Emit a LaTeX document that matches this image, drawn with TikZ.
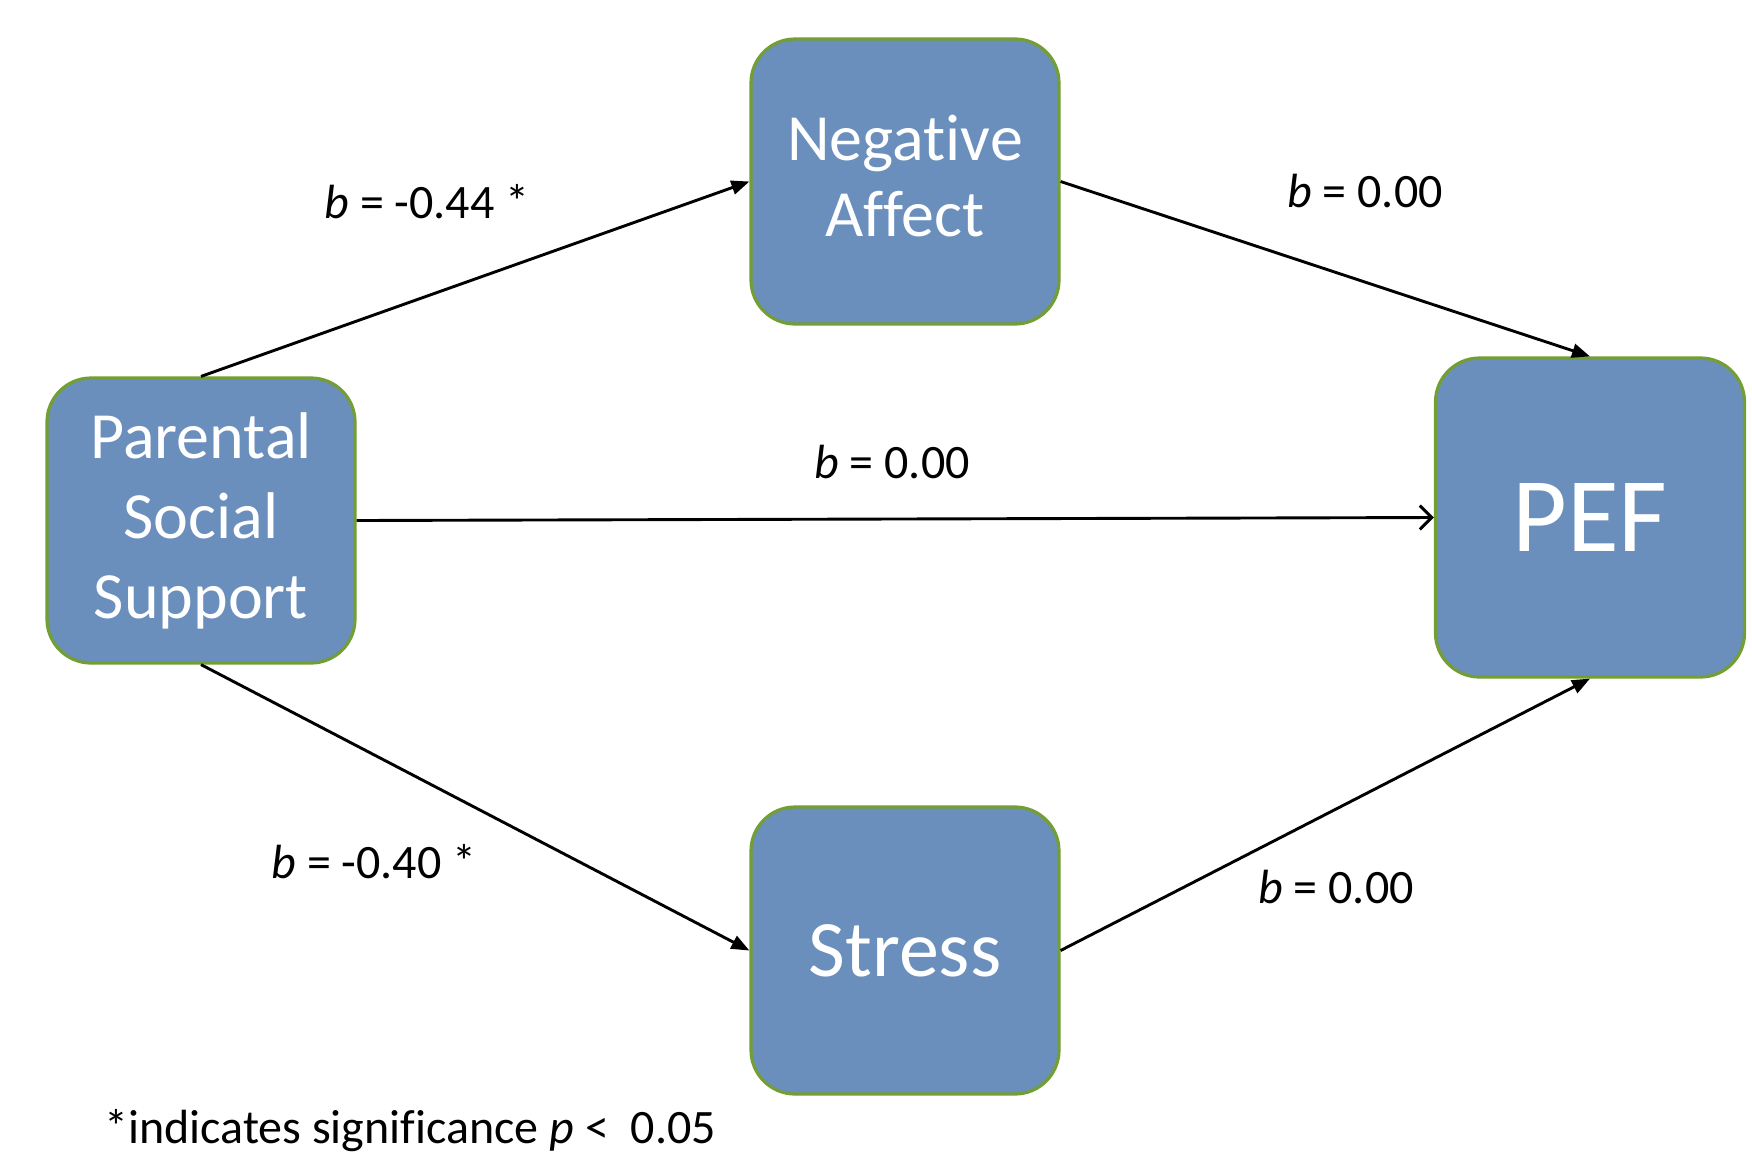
\documentclass[tikz,border=0pt]{standalone}
\usepackage{fontspec}
\setmainfont{Carlito}[Ligatures=NoCommon]
\usetikzlibrary{arrows.meta}
\definecolor{boxfill}{RGB}{106,143,188}
\definecolor{boxline}{RGB}{114,158,52}
\begin{document}
\begin{tikzpicture}[x=0.5pt,y=-0.5pt,
  vbox/.style={draw=boxline,line width=1.6pt,fill=boxfill,rounded corners=22pt,
    text=white,align=center,inner sep=0pt,minimum width=154pt},
  arr/.style={line width=1.45pt,-{Triangle[length=9pt,width=7pt]}},
  arrb/.style={line width=1.45pt,-{Straight Barb[length=6pt,width=12pt,line width=1.5pt]}},
  lbl/.style={font=\fontsize{24}{28}\selectfont,inner sep=0pt}]
\useasboundingbox (0,0) rectangle (1752,1174);
\node[vbox,minimum height=142.5pt,font=\fontsize{33}{38}\selectfont,text depth=6pt] (neg) at (905,181.5) {Negative\\Affect};
\node[vbox,minimum width=154.5pt,minimum height=159.5pt,font=\fontsize{53}{60}\selectfont] (pef) at (1590,517.5) {PEF};
\node[vbox,minimum height=142.5pt,font=\fontsize{33}{40}\selectfont] (par) at (201,520.5) {Parental\\Social\\Support};
\node[vbox,minimum height=143.5pt,font=\fontsize{40}{46}\selectfont] (str) at (905,950.5) {Stress};
\draw[arr] (par.north) -- (neg.west);
\draw[arr] (neg.east) -- (pef.north);
\draw[arrb] (par.east) -- (pef.west);
\draw[arr] (par.south) -- (str.west);
\draw[arr] (str.east) -- (pef.south);
\node[lbl] (l1) at (427,202) {\textit{b} = -0.44 *};
\node[lbl] (l2) at (1365,191) {\textit{b} = 0.00};
\node[lbl] (l3) at (892,462) {\textit{b} = 0.00};
\node[lbl] (l4) at (374,862) {\textit{b} = -0.40 *};
\node[lbl] (l5) at (1336,887) {\textit{b} = 0.00};
\node[lbl,anchor=base west] (fn) at (104,1143) {*indicates significance \textit{p} <\ \ 0.05};
\end{tikzpicture}
\end{document}
